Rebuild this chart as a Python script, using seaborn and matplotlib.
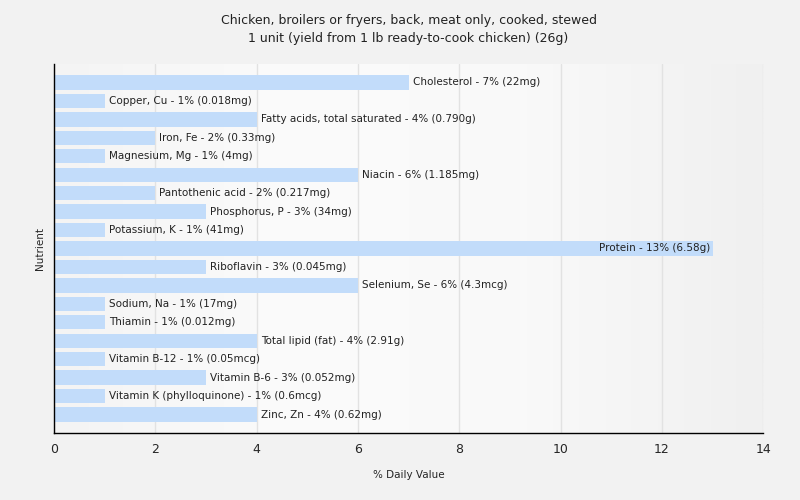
import numpy as np
import pandas as pd
import matplotlib
matplotlib.use("Agg")
import matplotlib.pyplot as plt
import seaborn as sns
from matplotlib.colors import LinearSegmentedColormap

nutrients = ["Cholesterol", "Copper, Cu", "Fatty acids, total saturated", "Iron, Fe",
             "Magnesium, Mg", "Niacin", "Pantothenic acid", "Phosphorus, P",
             "Potassium, K", "Protein", "Riboflavin", "Selenium, Se", "Sodium, Na",
             "Thiamin", "Total lipid (fat)", "Vitamin B-12", "Vitamin B-6",
             "Vitamin K (phylloquinone)", "Zinc, Zn"]
daily_value = [7, 1, 4, 2, 1, 6, 2, 3, 1, 13, 3, 6, 1, 1, 4, 1, 3, 1, 4]
amounts = ["22mg", "0.018mg", "0.790g", "0.33mg", "4mg", "1.185mg", "0.217mg",
           "34mg", "41mg", "6.58g", "0.045mg", "4.3mcg", "17mg", "0.012mg",
           "2.91g", "0.05mcg", "0.052mg", "0.6mcg", "0.62mg"]
x_ticks = [0, 2, 4, 6, 8, 10, 12, 14]

title = ("Chicken, broilers or fryers, back, meat only, cooked, stewed\n"
         "1 unit (yield from 1 lb ready-to-cook chicken) (26g)")

df = pd.DataFrame({"Nutrient": nutrients, "DV": daily_value, "Amount": amounts})

sns.set_style("white")
plt.rcParams["font.family"] = ["DejaVu Sans"]

fig = plt.figure(figsize=(8, 5), dpi=100, facecolor="#f2f2f2")
ax = fig.add_axes([0.0675, 0.134, 0.8865, 0.738])

xmax = 14
# gradient background
cmap = LinearSegmentedColormap.from_list("bg", ["#f4f4f4", "#fbfbfb", "#f9f9f9", "#f0f0f0"])
grad = np.linspace(0, 1, 256).reshape(1, -1)
ax.imshow(grad, extent=[0, xmax, 19, -1], aspect="auto", cmap=cmap, zorder=0)

sns.barplot(data=df, x="DV", y="Nutrient", color="#c2dcfa", saturation=1,
            width=0.78, ax=ax, zorder=2, edgecolor="none")

for i, (v, name, amt) in enumerate(zip(daily_value, nutrients, amounts)):
    label = f"{name} - {v}% ({amt})"
    if v + 3.5 > xmax:
        ax.text(v - 0.05, i, label, ha="right", va="center", fontsize=7.5,
                color="#222222", zorder=3)
    else:
        ax.text(v + 0.08, i, label, ha="left", va="center", fontsize=7.5,
                color="#222222", zorder=3)

ax.set_xlim(0, xmax)
ax.set_ylim(19, -1)
ax.set_xticks(x_ticks)
ax.set_xticklabels([str(t) for t in x_ticks], fontsize=9)
ax.set_yticks([-1, 4, 9, 14, 19])
ax.set_yticklabels([])
ax.grid(axis="x", color="#e2e2e2", linewidth=1, zorder=1)
ax.set_axisbelow(True)
for s in ["top", "right"]:
    ax.spines[s].set_visible(False)
for s in ["left", "bottom"]:
    ax.spines[s].set_color("black")
    ax.spines[s].set_linewidth(1)
ax.tick_params(axis="x", direction="out", length=4, width=1, color="black")
ax.tick_params(axis="y", direction="out", length=6, width=1, color="black")
ax.set_xlabel("% Daily Value", fontsize=7.5, labelpad=10)
ax.set_ylabel("Nutrient", fontsize=7.5, labelpad=-3)
ax.set_title(title, fontsize=9, pad=16, color="#222222", linespacing=1.45)

fig.savefig("out.png", dpi=100, facecolor=fig.get_facecolor())
